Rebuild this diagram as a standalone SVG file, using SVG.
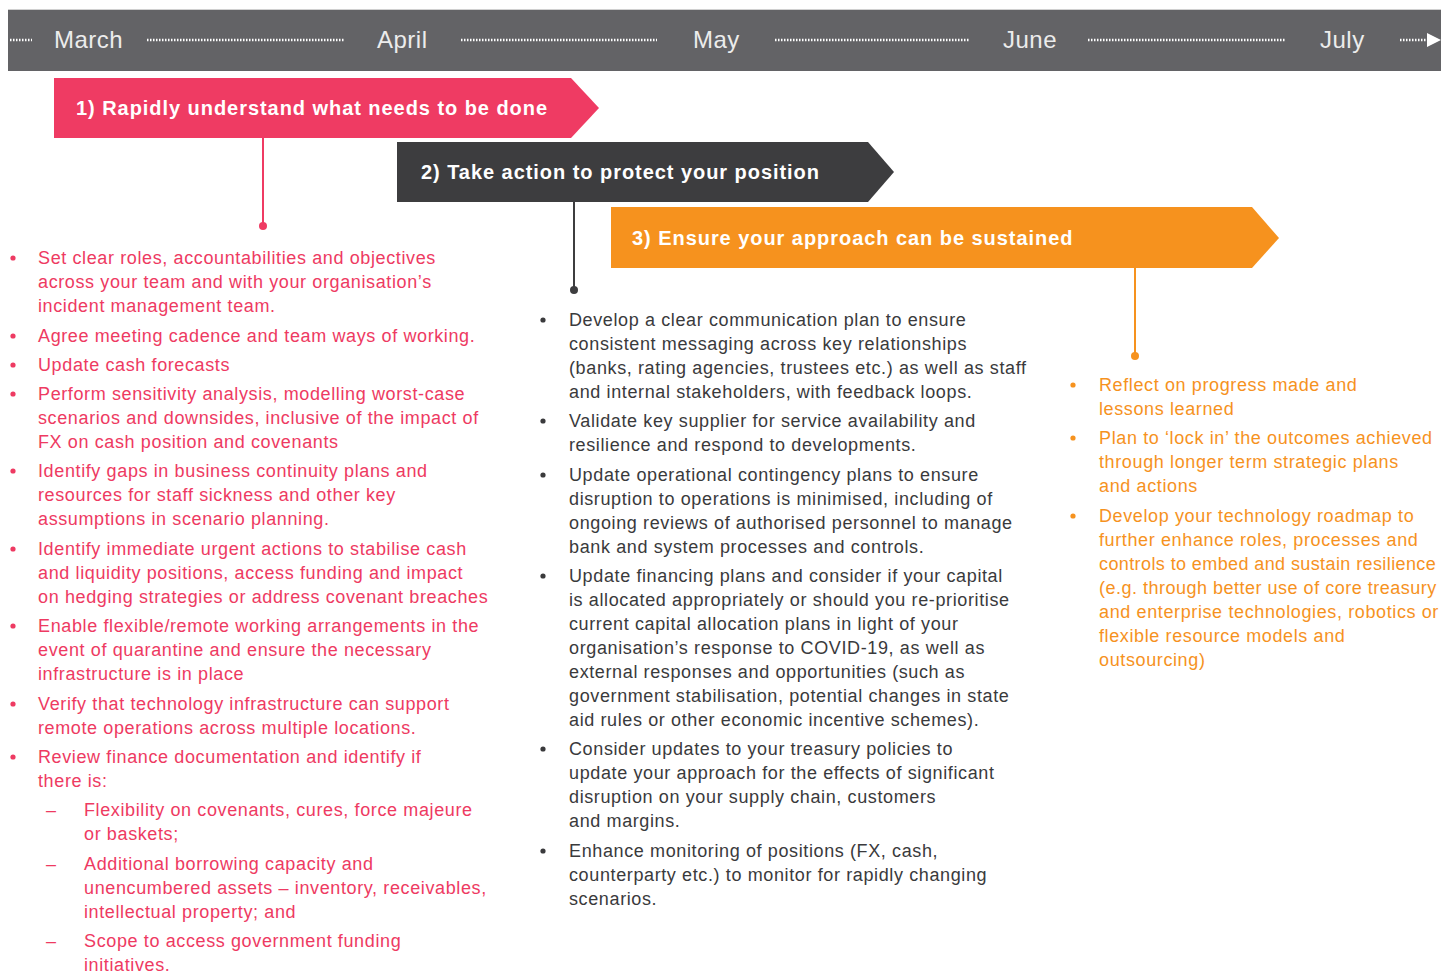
<svg xmlns="http://www.w3.org/2000/svg" width="1441" height="973" viewBox="0 0 1441 973">
<style>
.month{font-family:"Liberation Sans",Arial,sans-serif;font-size:24px;fill:#ececec;letter-spacing:0.5px}
.dots{stroke:#ffffff;stroke-width:2.5;stroke-dasharray:1.5 1.5;fill:none}
.hdr{font-family:"Liberation Sans",Arial,sans-serif;font-size:20px;font-weight:bold;fill:#ffffff;letter-spacing:0.95px}
.body{font-family:"Liberation Sans",Arial,sans-serif;font-size:18px;letter-spacing:0.62px}
.pink{fill:#ee3a62}
.dark{fill:#3a3a3c}
.orange{fill:#f6921e}
</style>
<rect width="1441" height="973" fill="#ffffff"/>

<g id="timeline">
<rect x="8" y="9" width="1433" height="62" fill="#636366"/>
<line x1="8" y1="9.5" x2="1441" y2="9.5" stroke="#d0d0d0" stroke-width="1"/>
<line class="dots" x1="10" y1="40" x2="32" y2="40"/>
<text class="month" x="54" y="48">March</text>
<line class="dots" x1="147" y1="40" x2="345" y2="40"/>
<text class="month" x="377" y="48">April</text>
<line class="dots" x1="461" y1="40" x2="657" y2="40"/>
<text class="month" x="693" y="48">May</text>
<line class="dots" x1="775" y1="40" x2="970" y2="40"/>
<text class="month" x="1003" y="48">June</text>
<line class="dots" x1="1088" y1="40" x2="1285" y2="40"/>
<text class="month" x="1320" y="48">July</text>
<line class="dots" x1="1400" y1="40" x2="1428" y2="40"/>
<path d="M1427,33 L1441,40 L1427,47 z" fill="#ffffff"/>
</g>

<g id="phase1">
<path d="M54,78 H571 L599,108 L571,138 H54 z" fill="#ef3b63"/>
<text class="hdr" x="76" y="115">1) Rapidly understand what needs to be done</text>
</g>
<g id="phase2">
<path d="M397,142 H868 L894,172 L868,202 H397 z" fill="#3d3d3f"/>
<text class="hdr" x="421" y="179">2) Take action to protect your position</text>
</g>
<g id="phase3">
<path d="M611,207 H1252 L1279,238 L1252,268 H611 z" fill="#f6921e"/>
<text class="hdr" x="632" y="245">3) Ensure your approach can be sustained</text>
</g>

<g id="connectors">
<line x1="263" y1="138" x2="263" y2="226" stroke="#ef3b63" stroke-width="2"/>
<circle cx="263" cy="226" r="4" fill="#ef3b63"/>
<line x1="574" y1="202" x2="574" y2="290" stroke="#3d3d3f" stroke-width="2"/>
<circle cx="574" cy="290" r="4" fill="#3d3d3f"/>
<line x1="1135" y1="268" x2="1135" y2="356" stroke="#f6921e" stroke-width="2"/>
<circle cx="1135" cy="356" r="4" fill="#f6921e"/>
</g>

<g id="list1" class="body pink">
<g fill="#ee3a62">
<circle cx="13" cy="258" r="2.6"/><circle cx="13" cy="336" r="2.6"/><circle cx="13" cy="365" r="2.6"/>
<circle cx="13" cy="394" r="2.6"/><circle cx="13" cy="471" r="2.6"/><circle cx="13" cy="549" r="2.6"/>
<circle cx="13" cy="626" r="2.6"/><circle cx="13" cy="704" r="2.6"/><circle cx="13" cy="757" r="2.6"/>
</g>
<text x="38" y="264">Set clear roles, accountabilities and objectives</text>
<text x="38" y="288">across your team and with your organisation’s</text>
<text x="38" y="312">incident management team.</text>
<text x="38" y="342">Agree meeting cadence and team ways of working.</text>
<text x="38" y="371">Update cash forecasts</text>
<text x="38" y="400">Perform sensitivity analysis, modelling worst-case</text>
<text x="38" y="424">scenarios and downsides, inclusive of the impact of</text>
<text x="38" y="448">FX on cash position and covenants</text>
<text x="38" y="477">Identify gaps in business continuity plans and</text>
<text x="38" y="501">resources for staff sickness and other key</text>
<text x="38" y="525">assumptions in scenario planning.</text>
<text x="38" y="555">Identify immediate urgent actions to stabilise cash</text>
<text x="38" y="579">and liquidity positions, access funding and impact</text>
<text x="38" y="603">on hedging strategies or address covenant breaches</text>
<text x="38" y="632">Enable flexible/remote working arrangements in the</text>
<text x="38" y="656">event of quarantine and ensure the necessary</text>
<text x="38" y="680">infrastructure is in place</text>
<text x="38" y="710">Verify that technology infrastructure can support</text>
<text x="38" y="734">remote operations across multiple locations.</text>
<text x="38" y="763">Review finance documentation and identify if</text>
<text x="38" y="787">there is:</text>
<text x="46" y="816">–</text>
<text x="84" y="816">Flexibility on covenants, cures, force majeure</text>
<text x="84" y="840">or baskets;</text>
<text x="46" y="870">–</text>
<text x="84" y="870">Additional borrowing capacity and</text>
<text x="84" y="894">unencumbered assets – inventory, receivables,</text>
<text x="84" y="918">intellectual property; and</text>
<text x="46" y="947">–</text>
<text x="84" y="947">Scope to access government funding</text>
<text x="84" y="971">initiatives.</text>
</g>

<g id="list2" class="body dark">
<g fill="#3a3a3c">
<circle cx="543" cy="320" r="2.6"/><circle cx="543" cy="421" r="2.6"/><circle cx="543" cy="475" r="2.6"/>
<circle cx="543" cy="576" r="2.6"/><circle cx="543" cy="749" r="2.6"/><circle cx="543" cy="851" r="2.6"/>
</g>
<text x="569" y="326">Develop a clear communication plan to ensure</text>
<text x="569" y="350">consistent messaging across key relationships</text>
<text x="569" y="374">(banks, rating agencies, trustees etc.) as well as staff</text>
<text x="569" y="398">and internal stakeholders, with feedback loops.</text>
<text x="569" y="427">Validate key supplier for service availability and</text>
<text x="569" y="451">resilience and respond to developments.</text>
<text x="569" y="481">Update operational contingency plans to ensure</text>
<text x="569" y="505">disruption to operations is minimised, including of</text>
<text x="569" y="529">ongoing reviews of authorised personnel to manage</text>
<text x="569" y="553">bank and system processes and controls.</text>
<text x="569" y="582">Update financing plans and consider if your capital</text>
<text x="569" y="606">is allocated appropriately or should you re-prioritise</text>
<text x="569" y="630">current capital allocation plans in light of your</text>
<text x="569" y="654">organisation’s response to COVID-19, as well as</text>
<text x="569" y="678">external responses and opportunities (such as</text>
<text x="569" y="702">government stabilisation, potential changes in state</text>
<text x="569" y="726">aid rules or other economic incentive schemes).</text>
<text x="569" y="755">Consider updates to your treasury policies to</text>
<text x="569" y="779">update your approach for the effects of significant</text>
<text x="569" y="803">disruption on your supply chain, customers</text>
<text x="569" y="827">and margins.</text>
<text x="569" y="857">Enhance monitoring of positions (FX, cash,</text>
<text x="569" y="881">counterparty etc.) to monitor for rapidly changing</text>
<text x="569" y="905">scenarios.</text>
</g>

<g id="list3" class="body orange">
<g fill="#f6921e">
<circle cx="1073" cy="385" r="2.6"/><circle cx="1073" cy="438" r="2.6"/><circle cx="1073" cy="516" r="2.6"/>
</g>
<text x="1099" y="391">Reflect on progress made and</text>
<text x="1099" y="415">lessons learned</text>
<text x="1099" y="444">Plan to ‘lock in’ the outcomes achieved</text>
<text x="1099" y="468">through longer term strategic plans</text>
<text x="1099" y="492">and actions</text>
<text x="1099" y="522">Develop your technology roadmap to</text>
<text x="1099" y="546">further enhance roles, processes and</text>
<text x="1099" y="570" style="letter-spacing:0.4px">controls to embed and sustain resilience</text>
<text x="1099" y="594" style="letter-spacing:0.5px">(e.g. through better use of core treasury</text>
<text x="1099" y="618">and enterprise technologies, robotics or</text>
<text x="1099" y="642">flexible resource models and</text>
<text x="1099" y="666">outsourcing)</text>
</g>
</svg>
